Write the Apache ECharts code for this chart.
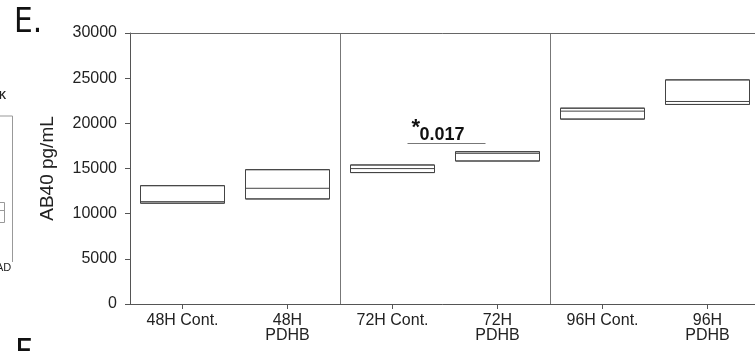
<!DOCTYPE html>
<html>
<head>
<meta charset="utf-8">
<script src="https://cdn.jsdelivr.net/npm/echarts@6/dist/echarts.min.js"></script>
<style>
html,body{margin:0;padding:0;background:#fff;}
#chart{width:755px;height:351px;}
</style>
</head>
<body>
<div id="chart"></div>
<script>
const categories = ['48H Cont.', '48H\nPDHB', '72H Cont.', '72H\nPDHB', '96H Cont.', '96H\nPDHB'];
const boxLower  = [11160, 11630, 14550, 15830, 20470, 22090];
const boxMedian = [11330, 12810, 14990, 16680, 21350, 22420];
const boxUpper  = [13100, 14870, 15390, 16860, 21680, 24810];
const yTicks = [0, 5000, 10000, 15000, 20000, 25000, 30000];
const sigLabel = '0.017';
const sigLevel = 17800;
const sigPair = [2, 3];

const boxData = categories.map((c, i) => [boxLower[i], boxLower[i], boxMedian[i], boxUpper[i], boxUpper[i]]);

const chart = echarts.init(document.getElementById('chart'), null, {renderer: 'canvas'});
const font = '"Liberation Sans", Arial, sans-serif';
const option = {
  animation: false,
  backgroundColor: '#fff',
  grid: {left: 130, width: 630, top: 33, bottom: 47, containLabel: false, outerBoundsMode: 'none'},
  xAxis: [{
    type: 'category',
    data: categories,
    position: 'bottom',
    axisLine: {show: true, lineStyle: {color: '#555', width: 1}},
    axisTick: {show: true, alignWithLabel: true, length: 5, lineStyle: {color: '#555'}},
    axisLabel: {color: '#222', fontFamily: font, fontSize: 16, lineHeight: 15, margin: 9},
    splitLine: {show: true, interval: function (i) { return i === 2 || i === 4; }, lineStyle: {color: '#777', width: 1}}
  }, {
    type: 'category',
    data: categories,
    position: 'top',
    axisLine: {show: true, lineStyle: {color: '#666', width: 1}},
    axisTick: {show: false},
    axisLabel: {show: false},
    splitLine: {show: false}
  }],
  yAxis: {
    type: 'value',
    min: 0, max: 30000, interval: 5000,
    name: 'AB40 pg/mL',
    nameLocation: 'middle',
    nameGap: 73,
    nameRotate: 90,
    nameTextStyle: {color: '#222', fontFamily: font, fontSize: 19},
    axisLine: {show: true, lineStyle: {color: '#555', width: 1}},
    axisTick: {show: true, length: 5, lineStyle: {color: '#555'}},
    axisLabel: {color: '#222', fontFamily: font, fontSize: 16, margin: 13,
      formatter: function (v) { return yTicks.indexOf(v) >= 0 ? String(v) : ''; }},
    splitLine: {show: false}
  },
  series: [{
    type: 'boxplot',
    data: boxData,
    boxWidth: [84, 84],
    itemStyle: {color: '#fff', borderColor: '#444', borderWidth: 1},
    emphasis: {disabled: true}
  }]
};
chart.setOption(option);

// significance annotation positioned through the chart's own scales
const pA = chart.convertToPixel({xAxisIndex: 0, yAxisIndex: 0}, [sigPair[0], sigLevel]);
const pB = chart.convertToPixel({xAxisIndex: 0, yAxisIndex: 0}, [sigPair[1], sigLevel]);
const x1 = pA[0] + 15, x2 = pB[0] - 12, yl = Math.round(pA[1]) + 0.5;

chart.setOption({
  graphic: [
    {type: 'line', shape: {x1: x1, y1: yl, x2: x2, y2: yl}, style: {stroke: '#777', lineWidth: 1}},
    {type: 'text', style: {x: x1 + 4, y: yl - 16, text: '*', font: 'bold 22px ' + font, fill: '#111', textVerticalAlign: 'middle'}, z: 10},
    {type: 'text', style: {x: x1 + 12, y: yl - 8, text: sigLabel, font: 'bold 18px ' + font, fill: '#111', textVerticalAlign: 'middle'}, z: 10},
    {type: 'text', style: {x: 14, y: 23, text: 'E.', font: '33px "DejaVu Sans Condensed", "DejaVu Sans", sans-serif', fill: '#111', textVerticalAlign: 'middle'}},
    {type: 'text', style: {x: -1, y: 96, text: 'K', font: 'bold 10px ' + font, fill: '#222', textVerticalAlign: 'middle'}},
    {type: 'polyline', shape: {points: [[0, 116], [12.5, 116], [12.5, 262]]}, style: {stroke: '#999', lineWidth: 1, fill: null}},
    {type: 'polyline', shape: {points: [[0, 202.5], [4.5, 202.5], [4.5, 222.5], [0, 222.5]]}, style: {stroke: '#999', lineWidth: 1, fill: null}},
    {type: 'line', shape: {x1: 0, y1: 210.5, x2: 4.5, y2: 210.5}, style: {stroke: '#999', lineWidth: 1}},
    {type: 'text', style: {x: -4, y: 268, text: 'AD', font: '11px ' + font, fill: '#222', textVerticalAlign: 'middle'}},
    {type: 'text', style: {x: 15, y: 354, text: 'F', font: '34px "DejaVu Sans Condensed", "DejaVu Sans", sans-serif', fill: '#111', textVerticalAlign: 'middle'}}
  ]
});
</script>
</body>
</html>
